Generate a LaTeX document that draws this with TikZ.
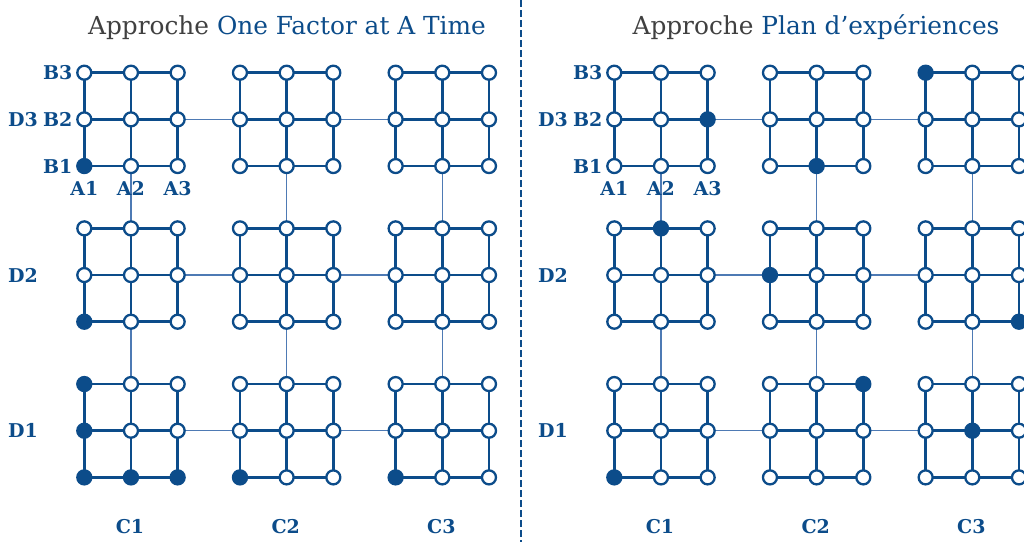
\documentclass[tikz,border=0pt]{standalone}
\usepackage{fontspec}
\setmainfont{DejaVu Serif}
\usetikzlibrary{positioning,backgrounds}
\definecolor{doeblue}{RGB}{12,76,138}
\definecolor{linkblue}{RGB}{78,122,180}
\definecolor{titlegray}{RGB}{64,64,64}
\tikzset{
  pt/.style={circle, draw=doeblue, line width=2.3pt, minimum size=14pt, inner sep=0pt},
  gridline/.style={draw=doeblue, line width=2.7pt},
  link/.style={draw=linkblue, line width=1.1pt},
  lab/.style={text=doeblue, font=\fontsize{19}{21}\selectfont\bfseries, inner sep=0pt},
  ttl/.style={font=\fontsize{24.8}{28}\selectfont, text=titlegray, inner sep=0pt},
  divider/.style={draw=doeblue, line width=2pt, dash pattern=on 7pt off 3pt},
}
\newcommand\markfull[1]{\expandafter\gdef\csname full@#1\endcsname{1}}
% One Factor at A Time
\markfull{L-1-3-1-1}\markfull{L-1-2-1-1}
\markfull{L-1-1-1-3}\markfull{L-1-1-1-2}\markfull{L-1-1-1-1}\markfull{L-1-1-2-1}\markfull{L-1-1-3-1}
\markfull{L-2-1-1-1}\markfull{L-3-1-1-1}
% Plan d'experiences
\markfull{R-1-3-3-2}\markfull{R-2-3-2-1}\markfull{R-3-3-1-3}
\markfull{R-1-2-2-3}\markfull{R-2-2-1-2}\markfull{R-3-2-3-1}
\markfull{R-1-1-1-1}\markfull{R-2-1-3-3}\markfull{R-3-1-2-2}
\begin{document}
\begin{tikzpicture}[x=1pt,y=-1pt]
\useasboundingbox (0,0) rectangle (1024,542);
\clip (0,0) rectangle (1024,542);
% nodes
\foreach \p/\ox in {L/0,R/530}{
 \foreach \c in {1,2,3}{
  \foreach \d in {1,2,3}{
   \foreach \a in {1,2,3}{
    \foreach \b in {1,2,3}{
      \ifcsname full@\p-\c-\d-\a-\b\endcsname
        \tikzset{cur/.style={fill=doeblue}}
      \else
        \tikzset{cur/.style={fill=white}}
      \fi
      \node[pt, cur] (\p-\c-\d-\a-\b) at ({84.3+\ox+155.67*(\c-1)+46.67*(\a-1)},{72.7+155.67*(3-\d)+46.67*(3-\b)}) {};
    }
   }
  }
 }
}
% lines
\begin{scope}[on background layer]
\foreach \p in {L,R}{
 \foreach \c in {1,2,3}{
  \foreach \d in {1,2,3}{
   \foreach \k in {1,2,3}{
     \draw[gridline] (\p-\c-\d-1-\k.center) -- (\p-\c-\d-3-\k.center);
     \draw[gridline] (\p-\c-\d-\k-1.center) -- (\p-\c-\d-\k-3.center);
   }
  }
 }
 \foreach \d in {1,2,3}{
  \foreach \c/\n in {1/2,2/3}{
   \draw[link] (\p-\c-\d-3-2.center) -- (\p-\n-\d-1-2.center);
  }
 }
 \foreach \c in {1,2,3}{
  \foreach \d/\n in {3/2,2/1}{
   \draw[link] (\p-\c-\d-2-1.center) -- (\p-\c-\n-2-3.center);
  }
 }
}
\end{scope}
% labels
\foreach \p/\ox in {L/0,R/530}{
 \foreach \b in {1,2,3}{\node[lab, left=3.5pt of \p-1-3-1-\b] (\p-B\b) {B\b};}
 \foreach \a in {1,2,3}{\node[lab, below=7pt of \p-1-3-\a-1] (\p-A\a) {A\a};}
 \foreach \d in {1,2,3}{\node[lab] (\p-D\d) at ({23+\ox},{119.4+155.67*(3-\d)}) {D\d};}
 \foreach \c in {1,2,3}{\node[lab] (\p-C\c) at ({130+\ox+155.67*(\c-1)},526.7) {C\c};}
}
% titles
\node[ttl, anchor=base] (Ltitle) at (287,34) {Approche \textcolor{doeblue}{One Factor at A Time}};
\node[ttl, anchor=base] (Rtitle) at (816,34) {Approche \textcolor{doeblue}{Plan d’expériences}};
% divider
\coordinate (dtop) at (520.5,0);
\coordinate (dbot) at (520.5,542);
\draw[divider] (dtop) -- (dbot);
\end{tikzpicture}
\end{document}
